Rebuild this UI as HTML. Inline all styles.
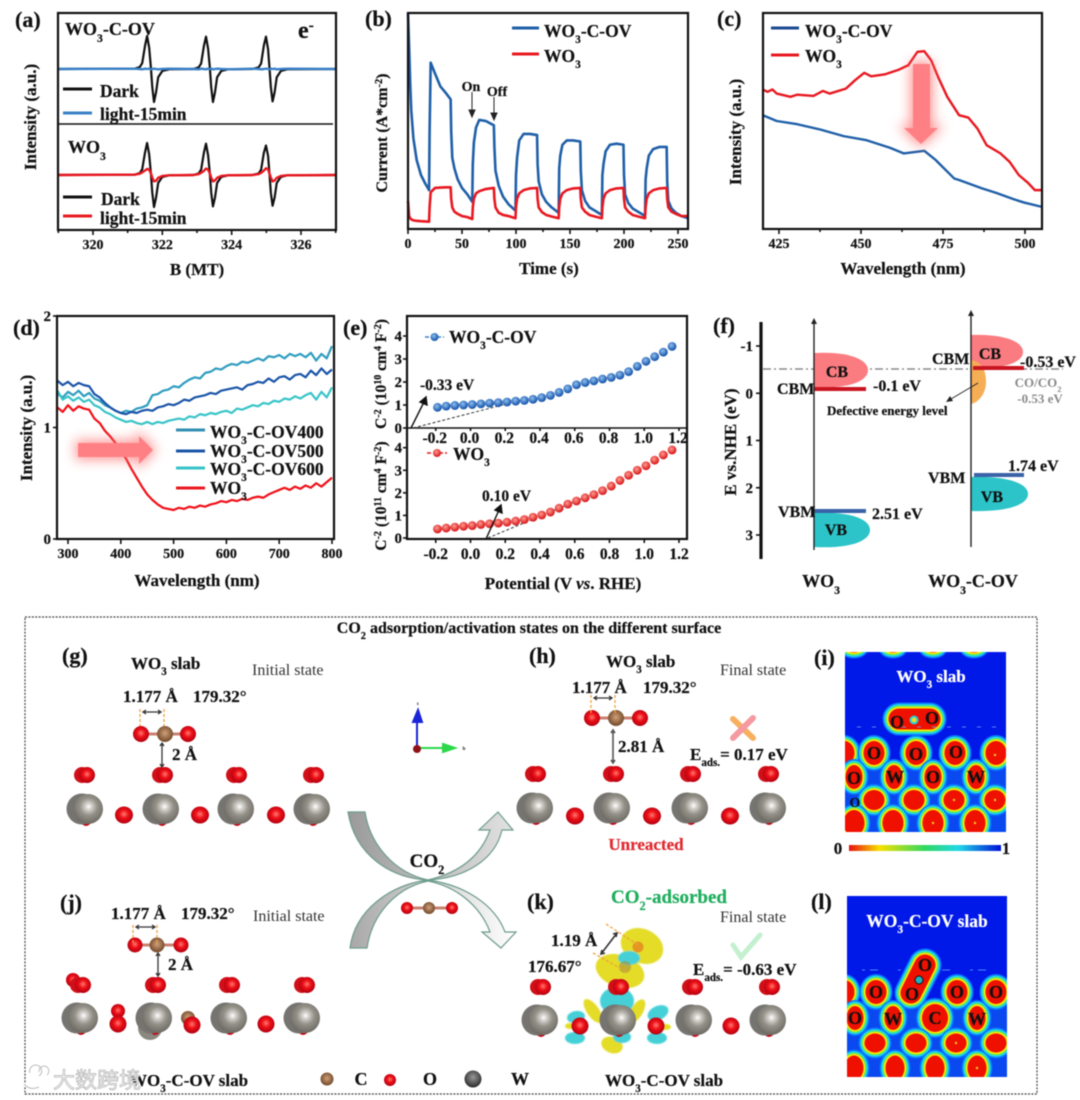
<!DOCTYPE html>
<html lang="en">
<head>
<meta charset="utf-8">
<title>WO3 and WO3-C-OV characterisation figure</title>
<style>
html,body{margin:0;padding:0;background:#fff;}
#figure{display:block;filter:blur(.45px);}
text{font-family:"Liberation Serif","Noto Sans CJK SC",serif;font-weight:bold;fill:#111;stroke:#111;stroke-width:.22px;}
.s{baseline-shift:sub;font-size:.65em;}
.u{baseline-shift:super;font-size:.65em;}
.reg{font-weight:normal;fill:#333;stroke:none;font-size:16px;}
.leg{font-size:17.5px;}
.pl{font-size:22px;}
.t17{font-size:17px;}
.t16{font-size:16px;}
</style>
</head>
<body>
<svg id="figure" xmlns="http://www.w3.org/2000/svg" width="1080" height="1100" viewBox="0 0 1080 1100">
<defs>
  <radialGradient id="gO" cx="50%" cy="45%" r="55%"><stop offset="0" stop-color="#ff7a70"/><stop offset=".45" stop-color="#ee1018"/><stop offset="1" stop-color="#b00010"/></radialGradient>
  <radialGradient id="gW" cx="52%" cy="42%" r="58%"><stop offset="0" stop-color="#ffffff"/><stop offset=".2" stop-color="#d0cec8"/><stop offset=".5" stop-color="#949289"/><stop offset="1" stop-color="#6b6961"/></radialGradient>
  <radialGradient id="gC" cx="50%" cy="45%" r="55%"><stop offset="0" stop-color="#d0a078"/><stop offset="1" stop-color="#70482a"/></radialGradient>
  <radialGradient id="gDark" cx="50%" cy="40%" r="60%"><stop offset="0" stop-color="#999"/><stop offset="1" stop-color="#2a2a2a"/></radialGradient>
  <radialGradient id="gBlueBall" cx="42%" cy="38%" r="60%"><stop offset="0" stop-color="#8fc0f0"/><stop offset="1" stop-color="#1250a8"/></radialGradient>
  <radialGradient id="gRedBall" cx="42%" cy="38%" r="60%"><stop offset="0" stop-color="#ff9c90"/><stop offset="1" stop-color="#d81418"/></radialGradient>
  <linearGradient id="gCbar" x1="0" x2="1" y1="0" y2="0"><stop offset="0" stop-color="#e81010"/><stop offset=".2" stop-color="#f8e000"/><stop offset=".5" stop-color="#30d860"/><stop offset=".72" stop-color="#20d8e8"/><stop offset="1" stop-color="#0010d8"/></linearGradient>
  <linearGradient id="gArcUp" x1="0" x2="1" y1="0" y2="0"><stop offset="0" stop-color="#9a9a9a"/><stop offset=".5" stop-color="#bdbdbd"/><stop offset="1" stop-color="#e2e2e2"/></linearGradient>
  <linearGradient id="gArcDown" x1="0" x2="1" y1="0" y2="0"><stop offset="0" stop-color="#a8a8a8"/><stop offset=".55" stop-color="#d8d8d8"/><stop offset="1" stop-color="#ffffff"/></linearGradient>
  <filter id="glow" x="-60%" y="-60%" width="220%" height="220%"><feGaussianBlur stdDeviation="6"/></filter>
  <filter id="soft" x="-10%" y="-10%" width="120%" height="120%"><feGaussianBlur stdDeviation=".6"/></filter>
  <clipPath id="clipI"><rect x="845" y="652" width="161" height="180"/></clipPath>
  <clipPath id="clipL"><rect x="847" y="896" width="160" height="181"/></clipPath>
</defs>
<rect width="1080" height="1100" fill="#fff"/>

<g id="plots"></g>

<!-- panel a text -->
<text class="pl" x="15" y="27">(a)</text>
<text x="65" y="35" style="font-size:18px">WO<tspan class="s">3</tspan>-C-OV</text>
<text x="298" y="38" style="font-size:24px">e<tspan class="u">-</tspan></text>
<line x1="63" x2="92" y1="89" y2="89" stroke="#111" stroke-width="3"/>
<text class="leg" x="100" y="97">Dark</text>
<line x1="63" x2="92" y1="113" y2="113" stroke="#3a80c8" stroke-width="3"/>
<text class="leg" x="100" y="120">light-15min</text>
<text x="68" y="153" style="font-size:18px">WO<tspan class="s">3</tspan></text>
<line x1="63" x2="92" y1="197" y2="197" stroke="#111" stroke-width="3"/>
<text class="leg" x="101" y="205">Dark</text>
<line x1="63" x2="92" y1="216" y2="216" stroke="#e81820" stroke-width="3"/>
<text class="leg" x="100" y="224">light-15min</text>
<text class="t17" transform="translate(36,117) rotate(-90)" text-anchor="middle">Intensity (a.u.)</text>
<text class="t17" x="197" y="275" text-anchor="middle">B (MT)</text>

<!-- panel b text -->
<text class="pl" x="365" y="26">(b)</text>
<text class="t16" transform="translate(387,133) rotate(-90)" text-anchor="middle">Current (A*cm<tspan class="u">-2</tspan>)</text>
<text class="t17" x="549" y="274" text-anchor="middle">Time (s)</text>
<line x1="512" x2="539" y1="28" y2="28" stroke="#1f5fa8" stroke-width="3"/>
<text class="leg" x="544" y="37">WO<tspan class="s">3</tspan>-C-OV</text>
<line x1="512" x2="539" y1="54" y2="54" stroke="#e81820" stroke-width="3"/>
<text class="leg" x="544" y="62">WO<tspan class="s">3</tspan></text>
<text x="471" y="91" text-anchor="middle" style="font-size:14px">On</text>
<text x="497" y="96" text-anchor="middle" style="font-size:14px">Off</text>

<!-- panel c text -->
<text class="pl" x="717" y="26">(c)</text>
<text class="t17" transform="translate(741,132) rotate(-90)" text-anchor="middle">Intensity (a.u.)</text>
<text class="t17" x="903" y="274" text-anchor="middle">Wavelength (nm)</text>
<line x1="771" x2="799" y1="28" y2="28" stroke="#1a4a90" stroke-width="3"/>
<text class="leg" x="805" y="37">WO<tspan class="s">3</tspan>-C-OV</text>
<line x1="771" x2="799" y1="55" y2="55" stroke="#e81820" stroke-width="3"/>
<text class="leg" x="805" y="62">WO<tspan class="s">3</tspan></text>

<!-- panel d text -->
<text class="pl" x="13" y="335">(d)</text>
<text class="t17" transform="translate(32,428) rotate(-90)" text-anchor="middle">Intensity (a.u.)</text>
<text class="t17" x="197" y="586" text-anchor="middle">Wavelength (nm)</text>
<line x1="176" x2="205" y1="430" y2="430" stroke="#2f8fb0" stroke-width="3"/>
<text x="210" y="438" style="font-size:17.5px">WO<tspan class="s">3</tspan>-C-OV400</text>
<line x1="176" x2="205" y1="451" y2="451" stroke="#1a55a8" stroke-width="3"/>
<text x="210" y="457" style="font-size:17.5px">WO<tspan class="s">3</tspan>-C-OV500</text>
<line x1="176" x2="205" y1="468" y2="468" stroke="#38c4c8" stroke-width="3"/>
<text x="210" y="475" style="font-size:17.5px">WO<tspan class="s">3</tspan>-C-OV600</text>
<line x1="176" x2="205" y1="488" y2="488" stroke="#e81820" stroke-width="3"/>
<text x="210" y="494" style="font-size:17.5px">WO<tspan class="s">3</tspan></text>

<!-- panel e text -->
<text class="pl" x="343" y="335">(e)</text>
<text transform="translate(386,374) rotate(-90)" text-anchor="middle" style="font-size:15.5px">C<tspan class="u">-2</tspan> (10<tspan class="u">10</tspan> cm<tspan class="u">4</tspan> F<tspan class="u">-2</tspan>)</text>
<text transform="translate(386,496) rotate(-90)" text-anchor="middle" style="font-size:15.5px">C<tspan class="u">-2</tspan> (10<tspan class="u">11</tspan> cm<tspan class="u">4</tspan> F<tspan class="u">-2</tspan>)</text>
<text class="leg" x="449" y="343">WO<tspan class="s">3</tspan>-C-OV</text>
<text class="leg" x="453" y="460">WO<tspan class="s">3</tspan></text>
<text x="420" y="390" style="font-size:15.5px">-0.33 eV</text>
<text x="482" y="501" style="font-size:15.5px">0.10 eV</text>
<text class="t17" x="563" y="589" text-anchor="middle">Potential (V <tspan font-style="italic">vs</tspan>. RHE)</text>

<!-- panel f -->
<g id="bands">
  <line x1="763" x2="1063" y1="369" y2="369" stroke="#8a8a8a" stroke-width="1.4" stroke-dasharray="8 3 2 3"/>
  <path d="M814,353 C850,351 868,360 868,370 C868,381 850,389 814,387 Z" fill="#fb7c80"/>
  <path d="M814,513 C850,511 870,519 870,530 C870,541 850,549 814,547 Z" fill="#2cc4c8"/>
  <path d="M971,335 C1006,334 1023,342 1023,352 C1023,362 1006,369 971,368 Z" fill="#fb7c80"/>
  <path d="M971,360 C984,362 986,374 986,382 C986,392 980,402 971,404 Z" fill="#f6ae55"/>
  <path d="M971,477 C1010,476 1028,484 1028,494 C1028,504 1010,512 971,511 Z" fill="#2cc4c8"/>
  <line x1="814" x2="866" y1="389" y2="389" stroke="#c81420" stroke-width="4"/>
  <line x1="814" x2="866" y1="511" y2="511" stroke="#3a62a8" stroke-width="4"/>
  <line x1="973" x2="1024" y1="368" y2="368" stroke="#c81420" stroke-width="4"/>
  <line x1="974" x2="1024" y1="475" y2="475" stroke="#3a62a8" stroke-width="4"/>
  <line x1="814" x2="814" y1="324" y2="550" stroke="#222" stroke-width="1.4"/>
  <path d="M814,318 l-3,6 h6 Z" fill="#222"/>
  <line x1="971" x2="971" y1="316" y2="547" stroke="#222" stroke-width="1.4"/>
  <path d="M971,310 l-3,6 h6 Z" fill="#222"/>
  <line x1="978" y1="383" x2="951" y2="399" stroke="#222" stroke-width="1"/>
  <path d="M946,402 l4,-6 l3,5 Z" fill="#222"/>
</g>
<text class="pl" x="713" y="333">(f)</text>
<text class="t17" transform="translate(736,442) rotate(-90)" text-anchor="middle">E vs.NHE (eV)</text>
<text class="t16" x="837" y="377" text-anchor="middle">CB</text>
<text class="t16" x="777" y="394">CBM</text>
<text class="t16" x="873" y="391">-0.1 eV</text>
<text class="t16" x="778" y="517">VBM</text>
<text class="t16" x="872" y="519">2.51 eV</text>
<text class="t16" x="836" y="535" text-anchor="middle">VB</text>
<text class="t16" x="990" y="359" text-anchor="middle">CB</text>
<text class="t16" x="932" y="364">CBM</text>
<text class="t16" x="1020" y="367">-0.53 eV</text>
<text x="1038" y="387" text-anchor="middle" style="font-size:13px;fill:#8a8a8a;stroke:none;">CO/CO<tspan class="s">2</tspan></text>
<text x="1040" y="403" text-anchor="middle" style="font-size:13px;fill:#8a8a8a;stroke:none;">-0.53 eV</text>
<text x="827" y="415" style="font-size:13px">Defective energy level</text>
<text class="t16" x="992" y="502" text-anchor="middle">VB</text>
<text class="t16" x="928" y="483">VBM</text>
<text class="t16" x="1008" y="471">1.74 eV</text>
<text x="821" y="587" text-anchor="middle" style="font-size:18px">WO<tspan class="s">3</tspan></text>
<text x="973" y="587" text-anchor="middle" style="font-size:18px">WO<tspan class="s">3</tspan>-C-OV</text>

<!-- lower section -->
<rect x="25" y="617" width="1012" height="477" fill="none" stroke="#444" stroke-width="1.2" stroke-dasharray="2 1.4"/>
<text x="529" y="633" text-anchor="middle" style="font-size:16px">CO<tspan class="s">2</tspan> adsorption/activation states on the different surface</text>

<path d="M348,812 L365,812 C370,845 395,873 428,880 C458,873 480,858 490,830 L479,830 L498,812 L513,830 L502,830 C495,860 465,878 428,880 C390,878 355,855 348,812 Z" fill="url(#gArcUp)" stroke="#6d9c8e" stroke-width="1.2"/>
<path d="M350,948 L367,948 C372,915 395,888 428,881 C455,886 480,905 490,932 L482,932 L501,948 L516,932 L505,932 C495,905 465,885 428,880 C390,885 355,910 350,948 Z" fill="url(#gArcDown)" stroke="#6d9c8e" stroke-width="1.2"/>
<text x="427" y="867" text-anchor="middle" style="font-size:19px">CO<tspan class="s">2</tspan></text>

<g id="kdensity" filter="url(#soft)">
  <ellipse cx="642" cy="946" rx="22" ry="17" transform="rotate(25 642 946)" fill="#e4dc28"/>
  <ellipse cx="620" cy="971" rx="25" ry="16" transform="rotate(18 620 971)" fill="#e4dc28"/>
  <ellipse cx="629" cy="958" rx="11" ry="7" fill="#44d0d8"/>
  <ellipse cx="617" cy="1001" rx="17" ry="14" fill="#44d0d8"/>
  <ellipse cx="593" cy="1011" rx="6" ry="14" transform="rotate(-35 593 1011)" fill="#e4dc28"/>
  <ellipse cx="637" cy="1011" rx="6" ry="13" transform="rotate(30 637 1011)" fill="#e4dc28"/>
  <ellipse cx="612" cy="1045" rx="11" ry="8" transform="rotate(20 612 1045)" fill="#e4dc28"/>
  <ellipse cx="622" cy="1037" rx="9" ry="6" fill="#44d0d8"/>
  <ellipse cx="576" cy="1017" rx="9" ry="6" transform="rotate(-10 576 1017)" fill="#44d0d8"/>
  <ellipse cx="575" cy="1038" rx="10" ry="6" fill="#44d0d8"/>
  <ellipse cx="658" cy="1013" rx="11" ry="7" transform="rotate(-25 658 1013)" fill="#44d0d8"/>
  <ellipse cx="657" cy="1038" rx="10" ry="6" fill="#44d0d8"/>
  <ellipse cx="666" cy="1027" rx="5" ry="3" fill="#e4dc28"/>
  <ellipse cx="570" cy="1026" rx="5" ry="3" fill="#e4dc28"/>
</g>

<g id="atoms"></g>

<circle cx="638" cy="947" r="5.5" fill="#e48a20" opacity=".85"/>
<circle cx="625" cy="967" r="6" fill="#a89040" opacity=".6"/>

<g id="annotations" stroke="#333" stroke-width="1.3" fill="none">
  <path d="M140,709 V726" stroke="#f0a040" stroke-dasharray="3 2"/>
  <path d="M164,709 V726" stroke="#f0a040" stroke-dasharray="3 2"/>
  <path d="M143,712 H161 M146,710 L143,712 L146,714 M158,710 L161,712 L158,714"/>
  <path d="M162,743 V767 M160,746 L162,743 L164,746 M160,764 L162,767 L164,764"/>
  <path d="M591,695 V715" stroke="#f0a040" stroke-dasharray="3 2"/>
  <path d="M615,695 V715" stroke="#f0a040" stroke-dasharray="3 2"/>
  <path d="M594,698 H612 M597,696 L594,698 L597,700 M609,696 L612,698 L609,700"/>
  <path d="M613,730 V763 M611,733 L613,730 L615,733 M611,760 L613,763 L615,760" stroke-width="1.6" stroke="#555"/>
  <path d="M133,925 V943" stroke="#f0a040" stroke-dasharray="3 2"/>
  <path d="M157,925 V943" stroke="#f0a040" stroke-dasharray="3 2"/>
  <path d="M136,927 H155 M139,925 L136,927 L139,929 M152,925 L155,927 L152,929"/>
  <path d="M158,953 V976 M156,956 L158,953 L160,956 M156,973 L158,976 L160,973"/>
  <path d="M606,924 L638,945" stroke="#f0a040" stroke-dasharray="3 2"/>
  <path d="M593,953 L627,972" stroke="#f0a040" stroke-dasharray="3 2"/>
  <path d="M617,933 L601,954 M613,934 L617,933 L616,937 M602,950 L601,954 L605,953" stroke-width="1.6"/>
</g>

<g stroke-width="6" stroke-linecap="round" fill="none">
  <line x1="733" y1="719" x2="753" y2="738" stroke="#f6b060"/>
  <line x1="753" y1="718" x2="733" y2="738" stroke="#f49aa0"/>
</g>
<path d="M733,945 L741,957 L760,935" fill="none" stroke="#c4f0d0" stroke-width="5" stroke-linecap="round"/>

<!-- crystal axes -->
<g>
  <path d="M417,748 V722 M413,722 L418,710 L422,722 Z" stroke="#1a24d8" stroke-width="2" fill="#1a24d8"/>
  <path d="M417,748 H443 M443,744 L455,748 L443,752 Z" stroke="#2ad84a" stroke-width="2" fill="#2ad84a"/>
  <circle cx="417" cy="749" r="4" fill="#901018"/>
  <text x="418" y="705" text-anchor="middle" style="font-size:5px;stroke:none;">c</text>
  <text x="464" y="750" text-anchor="middle" style="font-size:5px;stroke:none;">b</text>
</g>

<!-- g h text -->
<text class="pl" x="62" y="663">(g)</text>
<text class="t17" x="131" y="669">WO<tspan class="s">3</tspan> slab</text>
<text class="reg" x="252" y="675">Initial state</text>
<text class="t17" x="123" y="702">1.177 Å</text>
<text class="t17" x="193" y="702">179.32°</text>
<text class="t17" x="172" y="760">2 Å</text>
<text class="pl" x="529" y="663">(h)</text>
<text class="t17" x="606" y="667">WO<tspan class="s">3</tspan> slab</text>
<text class="reg" x="720" y="675">Final state</text>
<text class="t17" x="572" y="693">1.177 Å</text>
<text class="t17" x="643" y="693">179.32°</text>
<text class="t17" x="618" y="752">2.81 Å</text>
<text class="t17" x="690" y="760">E<tspan class="s">ads.</tspan>=  0.17 eV</text>
<text x="646" y="850" text-anchor="middle" style="font-size:17px;fill:#e02a30;stroke:#e02a30;">Unreacted</text>

<!-- i and l heat maps -->
<g id="heatI" clip-path="url(#clipI)"></g>
<g id="heatL" clip-path="url(#clipL)"></g>
<text class="pl" x="814" y="665">(i)</text>
<text x="931" y="682" text-anchor="middle" style="font-size:17px;fill:#fff;stroke:#fff;">WO<tspan class="s">3</tspan> slab</text>
<rect x="849" y="845" width="152" height="6" fill="url(#gCbar)"/>
<text x="838" y="854" text-anchor="middle" class="t17">0</text>
<text x="1006" y="854" text-anchor="middle" class="t17">1</text>
<text class="pl" x="811" y="909">(l)</text>
<text x="927" y="927" text-anchor="middle" style="font-size:17.5px;fill:#fff;stroke:#fff;">WO<tspan class="s">3</tspan>-C-OV slab</text>

<!-- j k text -->
<text class="pl" x="60" y="910">(j)</text>
<text class="t17" x="111" y="919">1.177 Å</text>
<text class="t17" x="181" y="919">179.32°</text>
<text class="reg" x="253" y="921">Initial state</text>
<text class="t17" x="168" y="970">2 Å</text>
<text class="pl" x="527" y="909">(k)</text>
<text x="611" y="903" style="font-size:19px;fill:#1fae5e;stroke:#1fae5e;">CO<tspan class="s">2</tspan>-adsorbed</text>
<text class="reg" x="720" y="922">Final state</text>
<text class="t17" x="551" y="946">1.19 Å</text>
<text class="t17" x="528" y="972">176.67°</text>
<text class="t17" x="693" y="975">E<tspan class="s">ads.</tspan>= -0.63 eV</text>

<text class="t17" x="130" y="1086">WO<tspan class="s">3</tspan>-C-OV slab</text>
<text class="t17" x="605" y="1086">WO<tspan class="s">3</tspan>-C-OV slab</text>
<circle cx="327" cy="1079" r="6.5" fill="url(#gC)"/>
<text x="361" y="1085" text-anchor="middle" style="font-size:18px">C</text>
<circle cx="390" cy="1080" r="6" fill="url(#gO)"/>
<text x="430" y="1085" text-anchor="middle" style="font-size:18px">O</text>
<circle cx="473" cy="1079" r="8.5" fill="url(#gDark)"/>
<text x="520" y="1085" text-anchor="middle" style="font-size:18px">W</text>

<!-- watermark -->
<g>
  <path d="M30,1073 a6,6 0 1 1 9,3 M39,1072 a5,5 0 1 1 8,3 M24,1084 q6,7 15,3" fill="none" stroke="#fff" stroke-width="3"/>
  <path d="M30,1073 a6,6 0 1 1 9,3 M39,1072 a5,5 0 1 1 8,3 M24,1084 q6,7 15,3" fill="none" stroke="#bdbdbd" stroke-width="1"/>
  <text x="53" y="1088" style="font-size:22px;font-family:'Noto Sans CJK SC',sans-serif;font-weight:normal;fill:#f4f4f4;stroke:#b4b4b4;stroke-width:.7px;">大数跨境</text>
</g>
</svg>

<script>
/* ---------- panel (a): EPR spectra ---------- */
const aField = [319,321.2,321.35,321.42,321.5,321.56,321.62,321.67,321.71,321.76,321.82,321.88,322.0,322.2,322.9,323.05,323.12,323.2,323.26,323.32,323.37,323.41,323.46,323.52,323.58,323.7,323.9,324.6,324.78,324.85,324.93,324.99,325.05,325.09,325.13,325.18,325.24,325.3,325.42,325.6,327];
const aDarkOV = [0,.01,.06,.18,.7,1,.65,.05,-.55,-1,-.7,-.25,-.06,-.01,0,.05,.17,.7,.98,.62,.05,-.55,-1,-.7,-.25,-.06,-.01,0,.05,.17,.72,.98,.6,.05,-.55,-.98,-.7,-.25,-.06,-.01,0];
const aLightOV = [0,.01,0,-.01,.01,0,.01,-.01,0,.01,0,-.01,0,.01,0,-.01,.01,0,-.01,.01,0,.01,-.01,0,.01,0,-.01,.01,0,-.01,0,.01,0,-.01,.01,0,.01,-.01,0,.01,0];
const aDarkWO3 = [0,.01,.06,.18,.7,1,.65,.05,-.55,-1,-.7,-.25,-.06,-.01,0,.05,.17,.7,.98,.62,.05,-.55,-.98,-.7,-.25,-.06,-.01,0,.05,.17,.7,.92,.6,.05,-.55,-.96,-.7,-.25,-.06,-.01,0];
const aLightWO3 = [0,.01,.04,.08,.14,.19,.17,.05,-.08,-.2,-.18,-.09,-.03,-.01,0,.03,.07,.13,.2,.17,.05,-.08,-.2,-.17,-.09,-.03,-.01,0,.03,.07,.14,.21,.18,.05,-.08,-.2,-.17,-.09,-.03,-.01,0];
const aTicks = [320,322,324,326];
const aMinorTicks = [319,321,323,325,327];

/* ---------- panel (b): photocurrent ---------- */
const bTime = [0,1,2,3,5,8,12,16,19.5,20,21,25,30,35,39.5,40,41,43,46,50,55,59.5,60,61,63,66,72,79.5,80,81,84,88,93,99.5,100,101,103,107,113,119.5,120,121,124,128,133,139.5,140,141,143,147,153,159.5,160,161,164,168,173,179.5,180,181,183,187,193,199.5,200,201,204,208,213,219.5,220,221,223,227,233,239.5,240,241,244,248,253,259];
const bOV = [100,85,68,55,42,32,25,21,18,45,77,72,66,63,60,45,33,28,23,19,16,12.6,30,40,47,50.5,50,48,38,27,20,15,11.5,8.5,25,33,41,44,44,43.5,30,22,16,12.5,10,7.5,28,34,39,41,41,40.5,27,18,13,10,8.5,6.5,25,30,36,39,39.5,39,25,16,12,9.5,8,6,23,28,34,37,38,38,22,13,9.5,7.5,6,5];
const bWO3 = [13,6,5,4.5,4,3.8,3.6,3.5,3.4,10,17,19,19.2,19.3,19.3,14,10,8,7,6,5.5,4.6,10,14,16.5,17.5,18.5,19,14,10,7.5,6.5,6,5,10,14,16.5,18,18.8,19,14,10,7.8,6.5,5.8,5,10,14,16.5,18,18.8,19,14,10,8,6.5,5.8,5,10,14,16.5,18,18.8,19,14,10,8,6.5,5.8,5,10,14,16.5,18,18.8,19,14,10,8,7,6,6];
const bTicks = [0,50,100,150,200,250];
const bMinorTicks = [25,75,125,175,225];

/* ---------- panel (c): PL spectra ---------- */
const cWaveWO3 = [420,421.5,423,424.3,428.5,430.6,435.5,438.4,440.5,445.4,448.2,451,453.1,457.3,461.6,464.4,467.2,469.3,471.4,473.5,476.3,479.9,482.7,485.5,488.3,492.5,495.3,498.1,500.9,503,505];
const cWO3 = [64.6,63.5,64.6,62.7,61.2,62.2,61.6,63.9,62.7,65,68.9,72.3,70.7,71.6,73.8,75.8,82,82.3,78.1,70.4,61.2,52.7,51.6,46.5,38.8,35,31.1,25,21.4,18,18];
const cWaveOV = [420,424.3,430.6,437.7,444.7,451.7,458.8,463,469.3,472.8,478.4,479.9,486.9,491.1,496.7,499.6,505];
const cOV = [52.7,50,48.5,46,43,41.1,37.6,35,36.2,31.9,23.4,22.7,18.8,16.8,13.7,12.3,10.3];
const cTicks = [425,450,475,500];
const cMinorTicks = [437.5,462.5,487.5];

/* ---------- panel (d): absorption ---------- */
const dWave = [280,290,300,310,320,330,340,350,360,370,380,390,400,410,420,430,440,450,460,470,480,490,500,510,520,530,540,550,560,570,580,590,600,610,620,630,640,650,660,670,680,690,700,710,720,730,740,750,760,770,780,790,800];
const dOV400 = [1.30,1.27,1.32,1.29,1.33,1.28,1.31,1.26,1.24,1.20,1.18,1.15,1.13,1.15,1.14,1.17,1.18,1.20,1.29,1.30,1.33,1.34,1.37,1.36,1.40,1.43,1.45,1.44,1.49,1.50,1.53,1.52,1.55,1.57,1.56,1.59,1.58,1.60,1.62,1.60,1.64,1.63,1.65,1.62,1.66,1.64,1.66,1.63,1.67,1.60,1.66,1.62,1.73];
const dOV500 = [1.42,1.38,1.41,1.37,1.40,1.38,1.37,1.30,1.27,1.22,1.18,1.15,1.13,1.12,1.14,1.13,1.15,1.16,1.15,1.18,1.19,1.21,1.20,1.22,1.25,1.24,1.27,1.28,1.29,1.31,1.30,1.33,1.34,1.35,1.36,1.34,1.38,1.39,1.41,1.40,1.44,1.41,1.45,1.46,1.43,1.47,1.48,1.45,1.51,1.47,1.53,1.48,1.52];
const dOV600 = [1.33,1.25,1.28,1.24,1.27,1.23,1.25,1.20,1.18,1.14,1.12,1.09,1.07,1.05,1.06,1.04,1.03,1.05,1.03,1.05,1.04,1.06,1.07,1.08,1.07,1.10,1.09,1.12,1.11,1.13,1.12,1.14,1.15,1.13,1.17,1.16,1.18,1.20,1.19,1.22,1.21,1.24,1.23,1.26,1.25,1.28,1.26,1.29,1.31,1.25,1.32,1.27,1.36];
const dWO3 = [1.18,1.14,1.20,1.15,1.19,1.17,1.16,1.08,1.04,0.97,0.92,0.86,0.79,0.72,0.63,0.55,0.47,0.40,0.35,0.31,0.28,0.27,0.26,0.28,0.27,0.29,0.28,0.30,0.29,0.31,0.32,0.34,0.33,0.35,0.34,0.36,0.35,0.37,0.38,0.37,0.40,0.42,0.44,0.46,0.44,0.47,0.45,0.48,0.46,0.50,0.47,0.51,0.55];
const dXTicks = [300,400,500,600,700,800];
const dYTicks = [0,1,2];

/* ---------- panel (e): Mott-Schottky ---------- */
const ePotential = [-0.19,-0.14,-0.09,-0.04,0.01,0.06,0.11,0.16,0.21,0.26,0.31,0.36,0.41,0.46,0.51,0.56,0.61,0.66,0.71,0.76,0.81,0.86,0.91,0.96,1.01,1.06,1.11,1.16];
const eOV = [0.9,0.95,0.98,1.0,1.02,1.05,1.08,1.1,1.13,1.17,1.2,1.25,1.32,1.42,1.55,1.7,1.88,1.98,2.05,2.13,2.2,2.3,2.45,2.68,2.9,3.1,3.3,3.55];
const eWO3 = [0.4,0.44,0.48,0.52,0.55,0.6,0.63,0.66,0.7,0.75,0.82,0.92,1.02,1.15,1.32,1.5,1.64,1.78,1.92,2.1,2.3,2.55,2.78,3.0,3.2,3.45,3.68,3.9];
const eXTicks = [-0.2,0,0.2,0.4,0.6,0.8,1.0,1.2];
const eXTickLabels = ['-0.2','0.0','0.2','0.4','0.6','0.8','1.0','1.2'];
const eYTicks = [0,1,2,3,4];
const eFitOVPotential = [-0.33,0.21];
const eFitOVValue = [0,1.05];
const eFitWO3Potential = [0.10,0.80];
const eFitWO3Value = [0,2.25];

/* ---------- panel (f): band edge ticks ---------- */
const fYTicks = [-1,0,1,2,3];

const SVGNS = 'http://www.w3.org/2000/svg';
const plots = document.getElementById('plots');
const atomLayer = document.getElementById('atoms');

function linear(d0, d1, r0, r1) {
  return function (v) { return r0 + (v - d0) * (r1 - r0) / (d1 - d0); };
}
function make(tag, parent, attrs, name) {
  const el = document.createElementNS(SVGNS, tag);
  for (const k in attrs) el.setAttribute(k, attrs[k]);
  
  
  parent.appendChild(el);
  return el;
}
function series(xs, ys, sx, sy, color, width, name) {
  let d = '';
  const n = Math.min(xs.length, ys.length);
  for (let i = 0; i < n; i++) d += (i ? 'L' : 'M') + sx(xs[i]).toFixed(2) + ',' + sy(ys[i]).toFixed(2);
  return make('path', plots, {d: d, fill: 'none', stroke: color, 'stroke-width': width, 'stroke-linejoin': 'round'}, name);
}
function frame(x0, y0, x1, y1, name) {
  make('rect', plots, {x: x0, y: y0, width: x1 - x0, height: y1 - y0, fill: 'none', stroke: '#111', 'stroke-width': 2.2}, name);
}
function label(x, y, str, anchor, size, name) {
  const t = make('text', plots, {x: x, y: y, 'text-anchor': anchor}, name);
  t.style.fontSize = size + 'px';
  t.textContent = str;
  return t;
}
function xTicks(scale, vals, labels, axisY, baseY, len, name, size) {
  vals.forEach(function (v, i) {
    make('line', plots, {x1: scale(v), x2: scale(v), y1: axisY, y2: axisY + len, stroke: '#111', 'stroke-width': 1.6}, name + '-tick');
    if (labels) label(scale(v), baseY, labels[i], 'middle', size || 14, name + '-tick-label');
  });
}
function yTicks(scale, vals, labels, axisX, labelX, len, name, size) {
  vals.forEach(function (v, i) {
    make('line', plots, {x1: axisX, x2: axisX - len, y1: scale(v), y2: scale(v), stroke: '#111', 'stroke-width': 1.6}, name + '-tick');
    if (labels) label(labelX, scale(v) + 5, labels[i], 'end', size || 14, name + '-tick-label');
  });
}
function glowArrow(d, name) {
  make('path', plots, {d: d, fill: '#ff7070', stroke: '#ff7070', 'stroke-width': 5, filter: 'url(#glow)', opacity: .75}, name + '-glow');
  make('path', plots, {d: d, fill: '#ff8084'}, name);
}

/* panel a */
const ax = linear(320, 326, 93, 301);
const ayTop = linear(0, 1, 69, 36);
const ayBottom = linear(0, 1, 175, 143);
series(aField, aDarkOV, ax, ayTop, '#111', 2.2, 'a-dark-ov-line');
series(aField, aLightOV, ax, ayTop, '#3a80c8', 2.4, 'a-light-ov-line');
series(aField, aDarkWO3, ax, ayBottom, '#111', 2.2, 'a-dark-wo3-line');
series(aField, aLightWO3, ax, ayBottom, '#e81820', 2.4, 'a-light-wo3-line');
frame(58, 13, 336, 230, 'a-plot-frame');
make('line', plots, {x1: 58, x2: 333, y1: 124, y2: 124, stroke: '#111', 'stroke-width': 1.6}, 'a-panel-divider');
xTicks(ax, aTicks, aTicks.map(String), 230, 249, 5, 'a-x');
xTicks(ax, aMinorTicks, null, 230, 0, 3, 'a-x-minor');

/* panel b */
const bx = linear(0, 250, 408, 678);
const by = linear(0, 100, 229, 13);
series(bTime, bOV, bx, by, '#1f5fa8', 2.6, 'b-ov-line');
series(bTime, bWO3, bx, by, '#e81820', 2.6, 'b-wo3-line');
frame(408, 13, 688, 229, 'b-plot-frame');
xTicks(bx, bTicks, bTicks.map(String), 229, 248, 5, 'b-x');
xTicks(bx, bMinorTicks, null, 229, 0, 3, 'b-x-minor');
make('path', plots, {d: 'M472,92 V115 M469,110 L472,117 L475,110 Z M494,97 V118 M491,113 L494,120 L497,113 Z', stroke: '#222', 'stroke-width': 1, fill: '#222'}, 'b-on-off-arrows');

/* panel c */
const cx = linear(425, 500, 779, 1025);
const cy = linear(0, 100, 229, 13);
series(cWaveWO3, cWO3, cx, cy, '#e81820', 2.4, 'c-wo3-line');
series(cWaveOV, cOV, cx, cy, '#1f5fa8', 2.4, 'c-ov-line');
frame(763, 13, 1042, 229, 'c-plot-frame');
xTicks(cx, cTicks, cTicks.map(String), 229, 248, 5, 'c-x');
xTicks(cx, cMinorTicks, null, 229, 0, 3, 'c-x-minor');
glowArrow('M913,64 h17 v64 h8 l-17,16 l-17,-16 h9 Z', 'c-quench-arrow');

/* panel d */
const dx = linear(300, 800, 68, 332);
const dy = linear(0, 2, 539, 316);
series(dWave, dOV400, dx, dy, '#2f9dc0', 2.2, 'd-ov400-line');
series(dWave, dOV500, dx, dy, '#1a55a8', 2.2, 'd-ov500-line');
series(dWave, dOV600, dx, dy, '#38c4c8', 2.2, 'd-ov600-line');
series(dWave, dWO3, dx, dy, '#f01018', 2.2, 'd-wo3-line');
frame(57, 316, 334, 539, 'd-plot-frame');
xTicks(dx, dXTicks, dXTicks.map(String), 539, 558, 5, 'd-x');
yTicks(dy, dYTicks, dYTicks.map(String), 57, 51, 4, 'd-y', 15);
glowArrow('M78,443 h61 v-7 l14,14 l-14,14 v-7 h-61 Z', 'd-shift-arrow');

/* panel e */
const ex = linear(0, 1.2, 470.5, 679);
const eyTop = linear(0, 4, 428, 336);
const eyBottom = linear(0, 4, 538, 447.7);
frame(407, 316, 687, 539, 'e-plot-frame');
make('line', plots, {x1: 407, x2: 687, y1: 428, y2: 428, stroke: '#111', 'stroke-width': 1.6}, 'e-panel-divider');
yTicks(eyTop, eYTicks, eYTicks.map(String), 407, 402, 4, 'e-y-upper', 15);
yTicks(eyBottom, eYTicks, eYTicks.map(String), 407, 402, 4, 'e-y-lower', 15);
xTicks(ex, eXTicks, null, 428, 0, 3, 'e-x-upper');
xTicks(ex, eXTicks, eXTickLabels, 539, 559, 4, 'e-x-lower', 15.5);
eXTicks.forEach(function (v, i) {
  label(ex(v) - 1, 443, eXTickLabels[i], 'middle', 15.5, 'e-x-upper-tick-label');
});
series(eFitOVPotential, eFitOVValue, ex, eyTop, '#333', 1, 'e-ov-fit-line').setAttribute('stroke-dasharray', '3 2');
series(eFitWO3Potential, eFitWO3Value, ex, eyBottom, '#333', 1, 'e-wo3-fit-line').setAttribute('stroke-dasharray', '3 2');
ePotential.forEach(function (p, i) {
  make('circle', plots, {cx: ex(p), cy: eyTop(eOV[i]), r: 4.4, fill: 'url(#gBlueBall)'}, 'e-ov-point');
  make('circle', plots, {cx: ex(p), cy: eyBottom(eWO3[i]), r: 4.4, fill: 'url(#gRedBall)'}, 'e-wo3-point');
});
make('path', plots, {d: 'M425,337 H444', stroke: '#3a80c8', 'stroke-width': 1.6, 'stroke-dasharray': '4 2', fill: 'none'}, 'e-legend-line-ov');
make('circle', plots, {cx: 434.5, cy: 337, r: 4, fill: 'url(#gBlueBall)'}, 'e-legend-point-ov');
make('path', plots, {d: 'M427,453 H447', stroke: '#e81820', 'stroke-width': 1.6, 'stroke-dasharray': '4 2', fill: 'none'}, 'e-legend-line-wo3');
make('circle', plots, {cx: 437, cy: 453, r: 4, fill: 'url(#gRedBall)'}, 'e-legend-point-wo3');
make('path', plots, {d: 'M411,428 L424,402 M420,402 L426,397 L427,405 Z', stroke: '#111', 'stroke-width': 1.4, fill: '#111'}, 'e-ov-intercept-arrow');
make('path', plots, {d: 'M486,539 L499,510 M495,510 L501,505 L502,513 Z', stroke: '#111', 'stroke-width': 1.4, fill: '#111'}, 'e-wo3-intercept-arrow');

/* panel f axis */
const fy = linear(-1, 3, 346, 535);
make('line', plots, {x1: 761, x2: 761, y1: 322, y2: 559, stroke: '#111', 'stroke-width': 3.2}, 'f-y-axis');
yTicks(fy, fYTicks, fYTicks.map(String), 761, 753, 5, 'f-y', 15);

/* atoms (illustration, not chart data) */
function atom(kind, x, y, r, rx) {
  const fills = {O: 'url(#gO)', W: 'url(#gW)', C: 'url(#gC)'};
  make('ellipse', atomLayer, {cx: x, cy: y, rx: rx || r, ry: r, fill: fills[kind]}, 'atom-' + kind.toLowerCase());
}
function co2(x0, x1, x2, y, r) {
  make('line', atomLayer, {x1: x0, x2: x2, y1: y, y2: y, stroke: '#c98070', 'stroke-width': 3}, 'co2-bond');
  atom('O', x0, y, r);
  atom('C', x1, y, r);
  atom('O', x2, y, r);
}
function wBall(x, y) {
  atom('O', x, y + 12, 5);
  make('circle', atomLayer, {cx: x - 4, cy: y, r: 15.5, fill: '#767470'}, 'atom-w-back');
  make('circle', atomLayer, {cx: x + 2, cy: y, r: 15, fill: 'url(#gW)'}, 'atom-w');
}
function oPair(x, y) {
  make('circle', atomLayer, {cx: x - 3, cy: y, r: 8, fill: '#d01018'}, 'atom-o-back');
  atom('O', x + 2, y, 8);
}
/* g */
co2(141, 165, 188, 734, 8);
[85, 163, 237, 314].forEach(function (x) { oPair(x, 775); });
[86, 162, 237, 313].forEach(function (x) { wBall(x, 809); });
[124, 200, 276].forEach(function (x) { atom('O', x, 815, 8.5, 9); });
/* h */
co2(592, 616, 640, 718, 8);
[536, 614, 691, 769].forEach(function (x) { oPair(x, 774); });
[536, 613, 691, 769].forEach(function (x) { wBall(x, 808); });
[575, 652, 730].forEach(function (x) { atom('O', x, 816, 8.5, 9); });
/* j */
co2(135, 157, 181, 945, 7.5);
atom('O', 73, 980, 7);
[81, 156, 230, 305].forEach(function (x) { oPair(x, 985); });
make('circle', atomLayer, {cx: 150, cy: 1028, r: 12, fill: '#8a887f'}, 'atom-w-back');
[81, 155, 230, 303].forEach(function (x) { wBall(x, 1018); });
atom('O', 118, 1011, 7);
atom('O', 118, 1024, 8.5);
atom('C', 188, 1018, 7);
atom('O', 192, 1025, 8.5);
atom('O', 266, 1024, 8.5);
/* k */
[541, 619, 693, 770].forEach(function (x) { oPair(x, 987); });
[541, 619, 695, 769].forEach(function (x) { wBall(x, 1020); });
[580, 656, 731].forEach(function (x) { atom('O', x, 1026, 8.5); });
/* free CO2 */
co2(407, 429, 452, 908, 6);

/* charge-density maps (illustration) */
const bandColors = ['#0a78ff', '#20d8e8', '#50e870', '#f4e800', '#f01000'];
const bandGrow = [6, 4.4, 3, 1.8, 0];
function blob(parent, x, y, rx, ry) {
  bandColors.forEach(function (c, i) {
    make('ellipse', parent, {cx: x, cy: y, rx: rx + bandGrow[i], ry: ry + bandGrow[i], fill: c}, 'density-contour');
  });
}
function capsule(parent, x1, y1, x2, y2, r) {
  bandColors.forEach(function (c, i) {
    make('line', parent, {x1: x1, y1: y1, x2: x2, y2: y2, stroke: c, 'stroke-width': 2 * (r + bandGrow[i]), 'stroke-linecap': 'round'}, 'density-contour');
  });
}
function hotspot(parent, x, y) {
  make('circle', parent, {cx: x, cy: y, r: 1.2, fill: '#f4c830'}, 'density-hotspot');
}
function mapLabel(parent, x, y, str, size) {
  const t = make('text', parent, {x: x, y: y + 6, 'text-anchor': 'middle'}, 'atom-label-' + str.toLowerCase());
  t.style.fontSize = (size || 18) + 'px';
  t.textContent = str;
}
const heatI = document.getElementById('heatI');
const heatL = document.getElementById('heatL');
make('rect', heatI, {x: 845, y: 652, width: 161, height: 180, fill: '#0018e8'}, 'i-map-background');
make('rect', heatI, {x: 845, y: 762, width: 161, height: 70, fill: '#0a48f0'}, 'i-map-lower-background');
[854, 893, 933, 974].forEach(function (x) { blob(heatI, x, 649, 8, 3.5); });
capsule(heatI, 899, 719, 930, 719, 10.5);
make('line', heatI, {x1: 857, x2: 1003, y1: 727, y2: 727, stroke: '#6ab0ff', 'stroke-width': .7, 'stroke-dasharray': '4 11'}, 'i-map-surface-noise');
[844, 874, 916, 955, 996].forEach(function (x) { blob(heatI, x, 753, 10.5, 12); });
[854, 894, 933, 976].forEach(function (x) { blob(heatI, x, 777, 8.5, 12); });
[874, 914, 954, 995].forEach(function (x) { blob(heatI, x, 800, 10.5, 10); });
[854, 893, 933, 975].forEach(function (x) { blob(heatI, x, 823, 10.5, 13); });
[[995, 755], [954, 800], [995, 800], [933, 823], [975, 823]].forEach(function (p) { hotspot(heatI, p[0], p[1]); });
make('circle', heatI, {cx: 914, cy: 720, r: 3.5, fill: '#f0e020', stroke: '#20d0e0', 'stroke-width': 2}, 'i-map-carbon-ring');
[[897, 722, 'O'], [932, 718, 'O'], [874, 753, 'O'], [916, 754, 'O'], [956, 752, 'O'], [854, 778, 'O'], [895, 777, 'W'], [933, 777, 'O'], [976, 777, 'W']].forEach(function (p) { mapLabel(heatI, p[0], p[1], p[2]); });
mapLabel(heatI, 855, 801, 'O', 14);

make('rect', heatL, {x: 847, y: 896, width: 160, height: 181, fill: '#0018e8'}, 'l-map-background');
make('rect', heatL, {x: 847, y: 1005, width: 160, height: 72, fill: '#0a48f0'}, 'l-map-lower-background');
[854, 895, 935, 997].forEach(function (x) { blob(heatL, x, 888, 8, 2); });
make('line', heatL, {x1: 862, x2: 1000, y1: 970, y2: 970, stroke: '#6ab0ff', 'stroke-width': .8, 'stroke-dasharray': '3 5 8 20'}, 'l-map-surface-noise');
capsule(heatL, 925, 965, 911, 993, 10.5);
[844, 876, 957, 996].forEach(function (x) { blob(heatL, x, 992, 10.5, 12); });
[855, 893, 977].forEach(function (x) { blob(heatL, x, 1018, 8.5, 12); });
blob(heatL, 935, 1018, 13, 14);
[875, 916, 956, 996].forEach(function (x) { blob(heatL, x, 1043, 10.5, 9.5); });
[854, 895, 935, 977].forEach(function (x) { blob(heatL, x, 1068, 9.5, 12.5); });
[[956, 1043], [977, 1068]].forEach(function (p) { hotspot(heatL, p[0], p[1]); });
make('circle', heatL, {cx: 919, cy: 980, r: 4, fill: '#20b0c0', stroke: '#111', 'stroke-width': 1}, 'l-map-carbon-ring');
[[925, 965, 'O'], [912, 994, 'O'], [876, 992, 'O'], [957, 992, 'O'], [996, 992, 'O'], [855, 1018, 'O'], [893, 1019, 'W'], [935, 1018, 'C'], [977, 1019, 'W']].forEach(function (p) { mapLabel(heatL, p[0], p[1], p[2]); });
</script>
</body>
</html>
